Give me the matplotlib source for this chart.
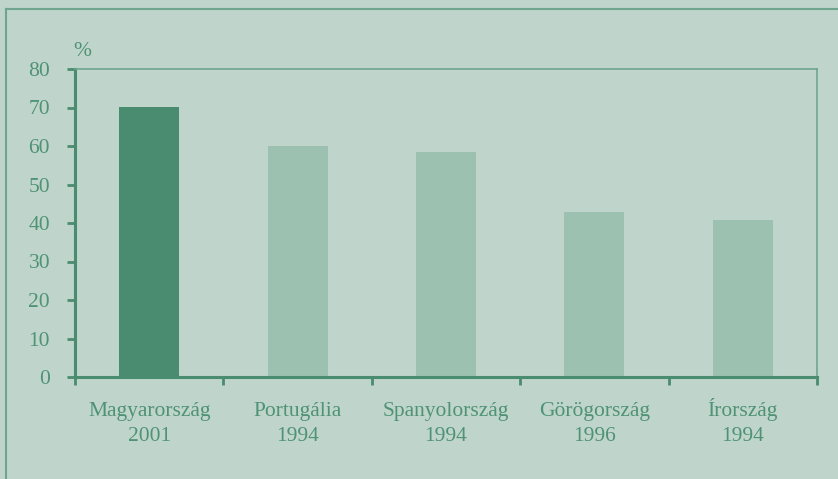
import matplotlib
matplotlib.use("Agg")
import matplotlib.pyplot as plt
from matplotlib.lines import Line2D
from matplotlib.transforms import blended_transform_factory
import numpy as np

categories = ["Magyarország\n2001", "Portugália\n1994", "Spanyolország\n1994",
              "Görögország\n1996", "Írország\n1994"]
values = [70.2, 60.0, 58.5, 42.9, 40.8]
yticks = [0, 10, 20, 30, 40, 50, 60, 70, 80]

bg = "#BFD5CB"
dark = "#4A8C70"
light = "#9DC1B0"
txt = "#4F9275"

plt.rcParams['font.family'] = ['Liberation Serif', 'DejaVu Serif']

W, H = 838, 479
fig = plt.figure(figsize=(W/100, H/100), dpi=100, facecolor=bg)
ax_h = 377 - 69
ax = fig.add_axes([75/W, 1-377/H, (817-75)/W, ax_h/H], facecolor=bg)

x = np.arange(len(categories))
colors = [dark] + [light]*(len(categories)-1)
ax.bar(x, values, width=0.405, color=colors, zorder=2)

ax.set_xlim(-0.5, len(categories)-0.5)
ax.set_ylim(0, 80)
ax.set_yticks(yticks)
ax.set_yticklabels([str(v) for v in yticks], fontsize=15.5, color=txt)

ax.set_xticks(np.arange(len(categories)+1)-0.5)
ax.set_xticklabels([])
ax.tick_params(axis='x', which='major', length=6, width=2, color=dark, direction='out')
ax.tick_params(axis='y', length=6, width=2, color=dark, direction='out', pad=12)

trans = blended_transform_factory(ax.transData, ax.transAxes)
for xi, lab in zip(x, categories):
    ax.text(xi, -64/ax_h, lab, transform=trans, ha='center', va='baseline',
            fontsize=15.5, color=txt, linespacing=1.42, multialignment='center')

for s in ['left', 'bottom']:
    ax.spines[s].set_color(dark)
    ax.spines[s].set_linewidth(2.2)
for s in ['top', 'right']:
    ax.spines[s].set_color("#6FA58C")
    ax.spines[s].set_linewidth(1.2)

ax.text(-0.5 + 0.05, 82.1, "%", fontsize=15.5, color=txt, ha='center', va='bottom',
        transform=ax.transData, clip_on=False)

# outer frame
fig.add_artist(Line2D([6/W, 1], [1-9/H, 1-9/H], color="#6FA58C", lw=1.5,
                      transform=fig.transFigure))
fig.add_artist(Line2D([6/W, 6/W], [0, 1-9/H], color="#6FA58C", lw=1.5,
                      transform=fig.transFigure))

fig.savefig("out.png", dpi=100, facecolor=bg)
